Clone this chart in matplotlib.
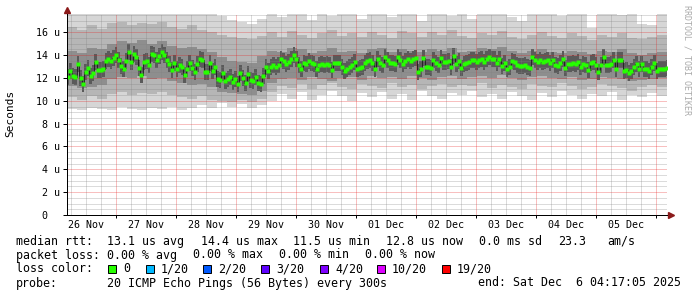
import numpy as np
import pandas as pd
import matplotlib
matplotlib.use('Agg')
import matplotlib.pyplot as plt
import matplotlib.dates as mdates
from matplotlib.patches import Rectangle

# time range of the graph
t_end = pd.Timestamp('2025-12-06 04:17:05')
t_start = t_end - pd.Timedelta(days=10)

# median rtt (us), roughly one value per hour
median = [
    12.05,
    12.6, 12.2, 12.1, 13.2, 12.0, 11.5, 12.5, 12.9, 12.2, 12.4, 13.4, 12.7, 12.7, 12.8,
    13.5, 13.7, 13.5, 13.75, 14.0, 13.55, 13.05, 12.75, 13.5, 14.25, 13.4, 14.1, 13.85,
    12.85, 12.25, 13.4, 13.5, 13.1, 14.1, 14.0, 13.6, 13.9, 14.3, 14.0, 13.55,
    13.2, 12.7, 13.35, 12.75, 13.1, 12.95, 12.3, 12.75, 13.3, 12.9, 12.5, 13.2, 13.65,
    13.55, 12.5, 12.5, 13.35, 12.6, 12.95, 11.95, 11.8, 12.4, 11.75, 11.95, 12.05, 11.65,
    11.9, 11.5, 12.45, 12.0, 11.6, 12.35, 11.8, 11.7, 12.1, 11.55, 11.5, 12.2, 12.95, 12.6,
    13.0, 13.1, 13.0, 13.15, 13.7, 13.5, 13.25, 13.4, 13.7, 14.05, 13.7, 13.15, 12.8,
    13.35, 13.2, 13.45, 13.35, 13.2, 12.75, 13.1, 13.25, 13.15, 13.2, 13.1, 12.7, 13.3,
    13.3, 13.3, 13.0, 12.6, 12.8, 13.0, 13.15, 13.4, 12.75, 12.9, 12.95, 13.3, 13.5, 13.55,
    13.3, 12.75, 13.65, 13.35, 13.1, 13.8, 13.55, 13.35, 13.3, 13.2, 13.8, 13.55, 13.25,
    13.5, 13.7, 13.5, 13.7, 13.75, 12.5, 12.8, 13.75, 12.95, 12.95, 12.9, 13.6, 13.35,
    13.1, 13.75, 13.4, 13.4, 13.45, 12.95, 13.9, 13.25, 13.5, 12.9, 13.25, 13.3, 13.4, 13.55,
    13.6, 13.4, 13.6, 13.7, 13.4, 13.7, 13.85, 13.7, 13.65, 13.35, 13.65, 13.05, 13.35,
    12.75, 12.95, 13.5, 13.4, 13.1, 13.05, 13.05, 13.15, 12.95, 12.85, 13.85, 13.55, 13.4,
    13.6, 13.4, 13.5, 13.6, 13.3, 13.6, 13.1, 13.05, 13.3, 13.7, 12.9, 13.2, 13.2, 13.3,
    13.25, 13.4, 12.95, 13.25, 13.1, 12.7, 13.3, 13.4, 13.1, 12.5, 13.1, 13.8, 13.1, 13.1,
    13.25, 13.6, 12.8, 13.6, 13.6, 12.6, 12.7, 12.4, 12.6, 13.0, 13.25, 12.8, 13.25, 12.8,
    12.8, 12.6, 13.0, 13.3, 12.6, 12.8, 12.8, 12.8, 12.85,
]

# smoke envelope, one value per 4 hours (us)
smoke_max = [17.6, 17.6, 17.6, 17.6, 17.6, 17.6, 17.6, 17.6, 17.6, 17.6,
             17.6, 17.6, 17.6, 17.6, 17.6, 17.4, 17.1, 16.9, 16.7, 17.2,
             17.6, 17.3, 17.6, 17.6, 17.1, 17.6, 17.4, 17.6, 17.6, 17.2,
             17.6, 17.6, 17.3, 17.6, 17.6, 17.0, 17.6, 17.6, 17.4, 17.6,
             17.2, 17.6, 17.6, 17.6, 17.3, 17.0, 17.6, 17.6, 17.6, 17.4,
             17.6, 17.6, 16.4, 17.6, 17.6, 17.5, 17.6, 16.7, 16.6, 17.6, 17.6]
smoke_p90 = [16.5, 16.2, 16.6, 16.3, 16.8, 16.9, 16.6, 16.8, 16.7, 16.9,
             16.5, 16.3, 16.6, 16.2, 16.0, 15.8, 15.6, 15.5, 15.4, 15.7,
             16.0, 15.6, 16.1, 15.8, 15.5, 15.9, 16.2, 15.7, 15.9, 15.6,
             16.0, 15.8, 15.5, 16.1, 15.9, 15.6, 16.0, 15.8, 16.2, 15.7,
             15.5, 15.9, 15.8, 16.1, 15.6, 15.4, 15.8, 16.0, 15.7, 15.5,
             15.9, 15.7, 15.3, 15.8, 15.6, 15.9, 15.5, 15.4, 15.6, 15.8, 15.8]
smoke_p75 = [14.4, 14.2, 14.6, 14.5, 15.0, 15.2, 15.1, 15.3, 15.0, 15.2,
             14.8, 14.6, 14.7, 14.5, 14.3, 13.8, 13.5, 13.4, 13.3, 13.9,
             14.4, 14.3, 14.6, 14.5, 14.2, 14.4, 14.6, 14.3, 14.4, 14.2,
             14.5, 14.6, 14.3, 14.5, 14.4, 14.3, 14.5, 14.4, 14.6, 14.3,
             14.4, 14.6, 14.5, 14.7, 14.4, 14.2, 14.4, 14.5, 14.3, 14.2,
             14.4, 14.3, 14.1, 14.4, 14.3, 14.5, 14.2, 14.0, 14.2, 14.3, 14.3]
smoke_p25 = [11.3, 11.1, 11.2, 11.4, 11.9, 12.1, 12.0, 12.2, 11.9, 12.0,
             11.7, 11.6, 11.4, 11.5, 11.2, 10.8, 10.7, 10.6, 10.5, 10.9,
             11.6, 11.9, 12.0, 11.8, 12.1, 11.9, 11.7, 12.0, 12.1, 11.8,
             12.2, 12.0, 12.1, 11.9, 12.2, 12.0, 11.8, 12.1, 12.2, 11.9,
             12.1, 12.2, 12.0, 12.3, 12.0, 11.8, 12.1, 12.2, 12.0, 11.9,
             12.1, 11.8, 11.9, 12.1, 12.0, 11.9, 11.7, 11.8, 11.9, 12.0, 12.0]
smoke_p10 = [10.3, 10.1, 10.4, 10.2, 10.6, 10.8, 10.5, 10.7, 10.6, 10.8,
             10.5, 10.3, 10.2, 10.4, 10.1, 10.0, 9.9, 10.1, 9.9, 10.2,
             10.8, 11.3, 11.1, 11.5, 11.0, 11.4, 11.6, 11.2, 11.0, 11.5,
             11.3, 11.1, 11.6, 11.2, 11.4, 11.0, 11.3, 11.5, 11.2, 11.4,
             11.3, 11.6, 11.1, 11.4, 11.2, 11.0, 11.5, 11.3, 11.2, 11.6,
             11.3, 11.0, 11.2, 11.5, 11.3, 11.1, 10.9, 11.2, 11.4, 11.2, 11.2]
smoke_min = [9.3, 9.2, 9.4, 9.3, 9.2, 9.5, 9.3, 9.2, 9.4, 9.3,
             9.5, 9.2, 9.4, 9.6, 9.4, 9.8, 9.5, 9.7, 9.4, 9.6,
             10.0, 10.6, 10.2, 10.8, 10.1, 10.5, 10.9, 10.4, 10.0, 10.7,
             10.3, 10.8, 10.2, 10.6, 10.1, 10.9, 10.4, 10.2, 10.7, 10.5,
             10.9, 10.3, 10.6, 10.2, 10.8, 10.4, 10.1, 10.7, 10.3, 10.9,
             10.5, 10.2, 10.6, 10.4, 10.8, 10.1, 10.5, 10.3, 10.7, 10.4, 10.4]

day_labels = ['26 Nov', '27 Nov', '28 Nov', '29 Nov', '30 Nov',
              '01 Dec', '02 Dec', '03 Dec', '04 Dec', '05 Dec']
y_ticks = [0, 2, 4, 6, 8, 10, 12, 14, 16]
y_labels = ['0  ', '2 u', '4 u', '6 u', '8 u', '10 u', '12 u', '14 u', '16 u']

loss_labels = ['0', '1/20', '2/20', '3/20', '4/20', '10/20', '19/20']
loss_colors = ['#26ff00', '#00b8ff', '#0059ff', '#5e00ff', '#7e00ff', '#dd00ff', '#ff0000']

MONO = 'DejaVu Sans Mono'
W, H = 697, 297
CORE = 0.7  # half height of the dark core around the median
DOT = 72 / 100  # one pixel in points
MGRID = (0.9, 0.1, 0.1, 0.28)
GRID = (0.5, 0.5, 0.5, 0.28)

fig = plt.figure(figsize=(W / 100, H / 100), dpi=100)
ax = fig.add_axes([67 / W, 82 / H, 600 / W, 201 / H])

med_t = pd.date_range(t_start + pd.Timedelta(minutes=20), t_end, periods=len(median))
smk_t = pd.date_range(t_start, t_end, periods=len(smoke_min))
med = np.array(median)

ax.fill_between(smk_t, smoke_min, smoke_max, step='post', color='#d6d6d6', lw=0, zorder=1)
ax.fill_between(smk_t, smoke_p10, smoke_p90, step='post', color='#b6b6b6', lw=0, zorder=1.1)
ax.fill_between(smk_t, smoke_p25, smoke_p75, step='post', color='#8e8e8e', lw=0, zorder=1.2)
ax.fill_between(med_t, med - CORE, med + CORE, step='mid', color='#5a5a5a', lw=0, zorder=1.3)

ax.step(med_t, med, where='mid', color='#1a1a1a', lw=0.6, zorder=3)
ax.plot(med_t, med, 's', ms=2.3, color='#26ff00', mec='none', zorder=4)

ax.set_xlim(t_start, t_end)
ax.set_ylim(0, 17.6)

# grid lines drawn by hand, dotted 1px on / 1px off
for yv in np.arange(0.5, 17.6, 0.5):
    major = yv % 2 == 0
    ax.axhline(yv, color=MGRID if major else GRID, lw=DOT, dashes=(DOT, DOT),
               antialiased=False, zorder=2.2 if major else 2.1)
for tv in pd.date_range(t_start.ceil('6h'), t_end, freq='6h'):
    major = tv.hour == 0
    ax.axvline(tv, color=MGRID if major else GRID, lw=DOT, dashes=(DOT, DOT),
               antialiased=False, zorder=2.2 if major else 2.1)

ax.xaxis.set_major_locator(mdates.DayLocator())
ax.set_yticks(y_ticks)
ax.set_yticklabels(y_labels, fontfamily=MONO, fontsize=7.2)
ax.tick_params(axis='y', which='major', length=3, width=0.72, pad=2.2)
ax.tick_params(axis='x', which='major', length=2.2, width=0.72, labelbottom=False)
ax.minorticks_off()

noons = pd.date_range('2025-11-26 12:00', periods=len(day_labels), freq='D')
for d, lab in zip(noons, day_labels):
    ax.text(d, -0.05, lab, transform=ax.get_xaxis_transform(), ha='center', va='center',
            fontfamily=MONO, fontsize=7.2)

for s in ['top', 'right']:
    ax.spines[s].set_visible(False)
for s in ['left', 'bottom']:
    ax.spines[s].set_linewidth(0.72)
    ax.spines[s].set_color('black')
    ax.spines[s].set_zorder(5)

# axis arrows
ax.plot([0, 0], [1, 1.02], transform=ax.transAxes, color='black', lw=0.72, clip_on=False)
ax.plot([0], [1.02], '^', ms=4, color='#8b1a1a', transform=ax.transAxes, clip_on=False)
ax.plot([1, 1.006], [0, 0], transform=ax.transAxes, color='black', lw=0.72, clip_on=False)
ax.plot([1.006], [0], '>', ms=4, color='#8b1a1a', transform=ax.transAxes, clip_on=False)

fig.text(10 / W, 1 - 113 / H, 'Seconds', rotation=90, ha='center', va='center',
         fontfamily=MONO, fontsize=8)
fig.text(687 / W, 1 - 60 / H, 'RRDTOOL / TOBI OETIKER', rotation=270, ha='center',
         va='center', fontfamily=MONO, fontsize=6, color='#aaaaaa')

# legend rows
def row(items, base):
    for x, s in items:
        fig.text(x / W, 1 - base / H, s, ha='left', va='baseline', fontfamily=MONO, fontsize=8.4)

row([(16, 'median rtt:'), (107, '13.1 us avg'), (200.7, '14.4 us max'), (293, '11.5 us min'),
     (386, '12.8 us now'), (479, '0.0 ms sd'), (558, '23.3'), (607, 'am/s')], 245)
row([(16, 'packet loss:'), (107, '0.00 % avg'), (193, '0.00 % max'), (279, '0.00 % min'),
     (365, '0.00 % now')], 258.5)
row([(16, 'loss color:')], 272.5)
box_x = [108, 146, 203, 261, 320, 377, 442]
for bx, lab, col in zip(box_x, loss_labels, loss_colors):
    fig.patches.append(Rectangle((bx / W, 1 - 273 / H), 8 / W, 8 / H, transform=fig.transFigure,
                                 facecolor=col, edgecolor='black', lw=0.7))
    fig.text((bx + 15) / W, 1 - 272.5 / H, lab, ha='left', va='baseline',
             fontfamily=MONO, fontsize=8.4)
row([(16, 'probe:'), (107, '20 ICMP Echo Pings (56 Bytes) every 300s'),
     (478, 'end: Sat Dec  6 04:17:05 2025')], 286.5)

fig.savefig('out.png', dpi=100)
